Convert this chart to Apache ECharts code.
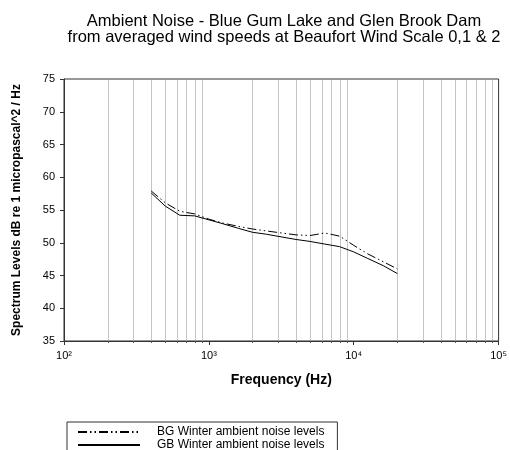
<!DOCTYPE html>
<html>
<head>
<meta charset="utf-8">
<script src="https://cdn.jsdelivr.net/npm/echarts@6/dist/echarts.min.js"></script>
<style>
  html, body { margin: 0; padding: 0; background: #fff; }
  #chart { width: 510px; height: 450px; }
</style>
</head>
<body>
<div id="chart"></div>
<script>
// One-third octave band centre frequencies (Hz)
var frequencies = [400, 500, 630, 800, 1000, 1250, 1600, 2000, 2500, 3150, 4000, 5000, 6300, 8000, 10000, 12500, 16000, 20000];

// Blue Gum Lake, winter ambient noise (dB re 1 µPa²/Hz)
var bgWinter = [57.9, 56.1, 54.8, 54.4, 53.6, 53.0, 52.5, 52.1, 51.8, 51.5, 51.2, 51.1, 51.5, 51.0, 49.6, 48.3, 47.1, 46.0];

// Glen Brook Dam, winter ambient noise (dB re 1 µPa²/Hz)
var gbWinter = [57.6, 55.6, 54.2, 54.1, 53.5, 52.9, 52.2, 51.6, 51.3, 50.9, 50.5, 50.2, 49.8, 49.4, 48.6, 47.6, 46.5, 45.3];

var seriesNames = ['BG Winter ambient noise levels', 'GB Winter ambient noise levels'];

// Decade tick labels
var decadeLabels = { 100: '10²', 1000: '10³', 10000: '10⁴', 100000: '10⁵' };

var yMin = 35, yMax = 75, yStep = 5;

// Intermediate log positions (2..9 within each decade) for grid lines and minor ticks
var minorFreqs = [];
[100, 1000, 10000].forEach(function (d) {
  for (var m = 2; m <= 9; m++) minorFreqs.push(m * d);
});

var FONT = '"Liberation Sans", Arial, sans-serif';

function pairs(xs, ys) {
  return xs.map(function (x, i) { return [x, ys[i]]; });
}

var chart = echarts.init(document.getElementById('chart'), null, { renderer: 'canvas' });

chart.setOption({
  animation: false,
  backgroundColor: '#ffffff',
  graphic: [{
    type: 'text',
    x: 284,
    y: 13,
    style: {
      text: 'Ambient Noise - Blue Gum Lake and Glen Brook Dam\nfrom averaged wind speeds at Beaufort Wind Scale 0,1 & 2',
      textAlign: 'center',
      font: '16.5px ' + FONT,
      lineHeight: 16,
      fill: '#000'
    }
  }],
  grid: {
    left: 64, right: 11, top: 79, bottom: 109,
    show: true, borderColor: '#333', borderWidth: 1, backgroundColor: 'transparent'
  },
  legend: {
    data: seriesNames,
    orient: 'vertical',
    left: 67,
    top: 422,
    height: 40,
    padding: [4, 13, 6, 10],
    itemWidth: 62,
    itemHeight: 10,
    itemGap: 1,
    borderColor: '#333',
    borderWidth: 1,
    borderRadius: 0,
    itemStyle: { opacity: 0, borderWidth: 0 },
    textStyle: { fontFamily: FONT, fontSize: 12, color: '#000', padding: [0, 0, 0, 12] }
  },
  xAxis: {
    type: 'log',
    logBase: 10,
    min: 100,
    max: 100000,
    name: 'Frequency (Hz)',
    nameLocation: 'middle',
    nameGap: 32,
    nameTextStyle: { fontFamily: FONT, fontSize: 14, fontWeight: 'bold', color: '#000' },
    axisLine: { show: true, onZero: false, lineStyle: { color: '#333', width: 1 } },
    axisTick: { show: true, inside: false, length: 4, lineStyle: { color: '#333' } },
    axisLabel: {
      fontFamily: FONT, fontSize: 11, color: '#000', margin: 9,
      formatter: function (v) { return decadeLabels[Math.round(v)] || ''; }
    },
    splitLine: { show: false },
    minorTick: { show: false }
  },
  yAxis: {
    type: 'value',
    min: yMin,
    max: yMax,
    interval: yStep,
    name: 'Spectrum Levels dB re 1 micropascal^2 / Hz',
    nameLocation: 'middle',
    nameGap: 41,
    nameTextStyle: { fontFamily: FONT, fontSize: 12, fontWeight: 'bold', color: '#000' },
    axisLine: { show: true, lineStyle: { color: '#333', width: 1 } },
    axisTick: { show: true, inside: false, length: 4, lineStyle: { color: '#333' } },
    axisLabel: { fontFamily: FONT, fontSize: 11, color: '#000', margin: 9 },
    splitLine: { show: false }
  },
  series: [
    {
      // grid lines and small ticks at 2..9 of each decade
      type: 'custom',
      name: 'logGrid',
      silent: true,
      clip: false,
      z: 1,
      data: minorFreqs.map(function (f) { return [f]; }),
      renderItem: function (params, api) {
        var f = api.value(0);
        var bottom = api.coord([f, yMin]);
        var top = api.coord([f, yMax]);
        var x = Math.round(bottom[0]) + 0.5;
        return {
          type: 'group',
          children: [
            {
              type: 'line',
              shape: { x1: x, y1: bottom[1] - 1, x2: x, y2: top[1] + 1 },
              style: { stroke: '#c4c4c4', lineWidth: 1 }
            },
            {
              type: 'line',
              shape: { x1: x, y1: bottom[1], x2: x, y2: bottom[1] + 2 },
              style: { stroke: '#555', lineWidth: 1 }
            }
          ]
        };
      }
    },
    {
      name: seriesNames[0],
      type: 'line',
      data: pairs(frequencies, bgWinter),
      showSymbol: false,
      symbol: 'none',
      smooth: false,
      z: 3,
      lineStyle: { color: '#000', width: 1, type: [9, 3, 1.5, 3, 1.5, 3] },
      itemStyle: { color: '#000' }
    },
    {
      name: seriesNames[1],
      type: 'line',
      data: pairs(frequencies, gbWinter),
      showSymbol: false,
      symbol: 'none',
      smooth: false,
      z: 3,
      lineStyle: { color: '#000', width: 1, type: 'solid' },
      itemStyle: { color: '#000' }
    }
  ]
});
</script>
</body>
</html>
